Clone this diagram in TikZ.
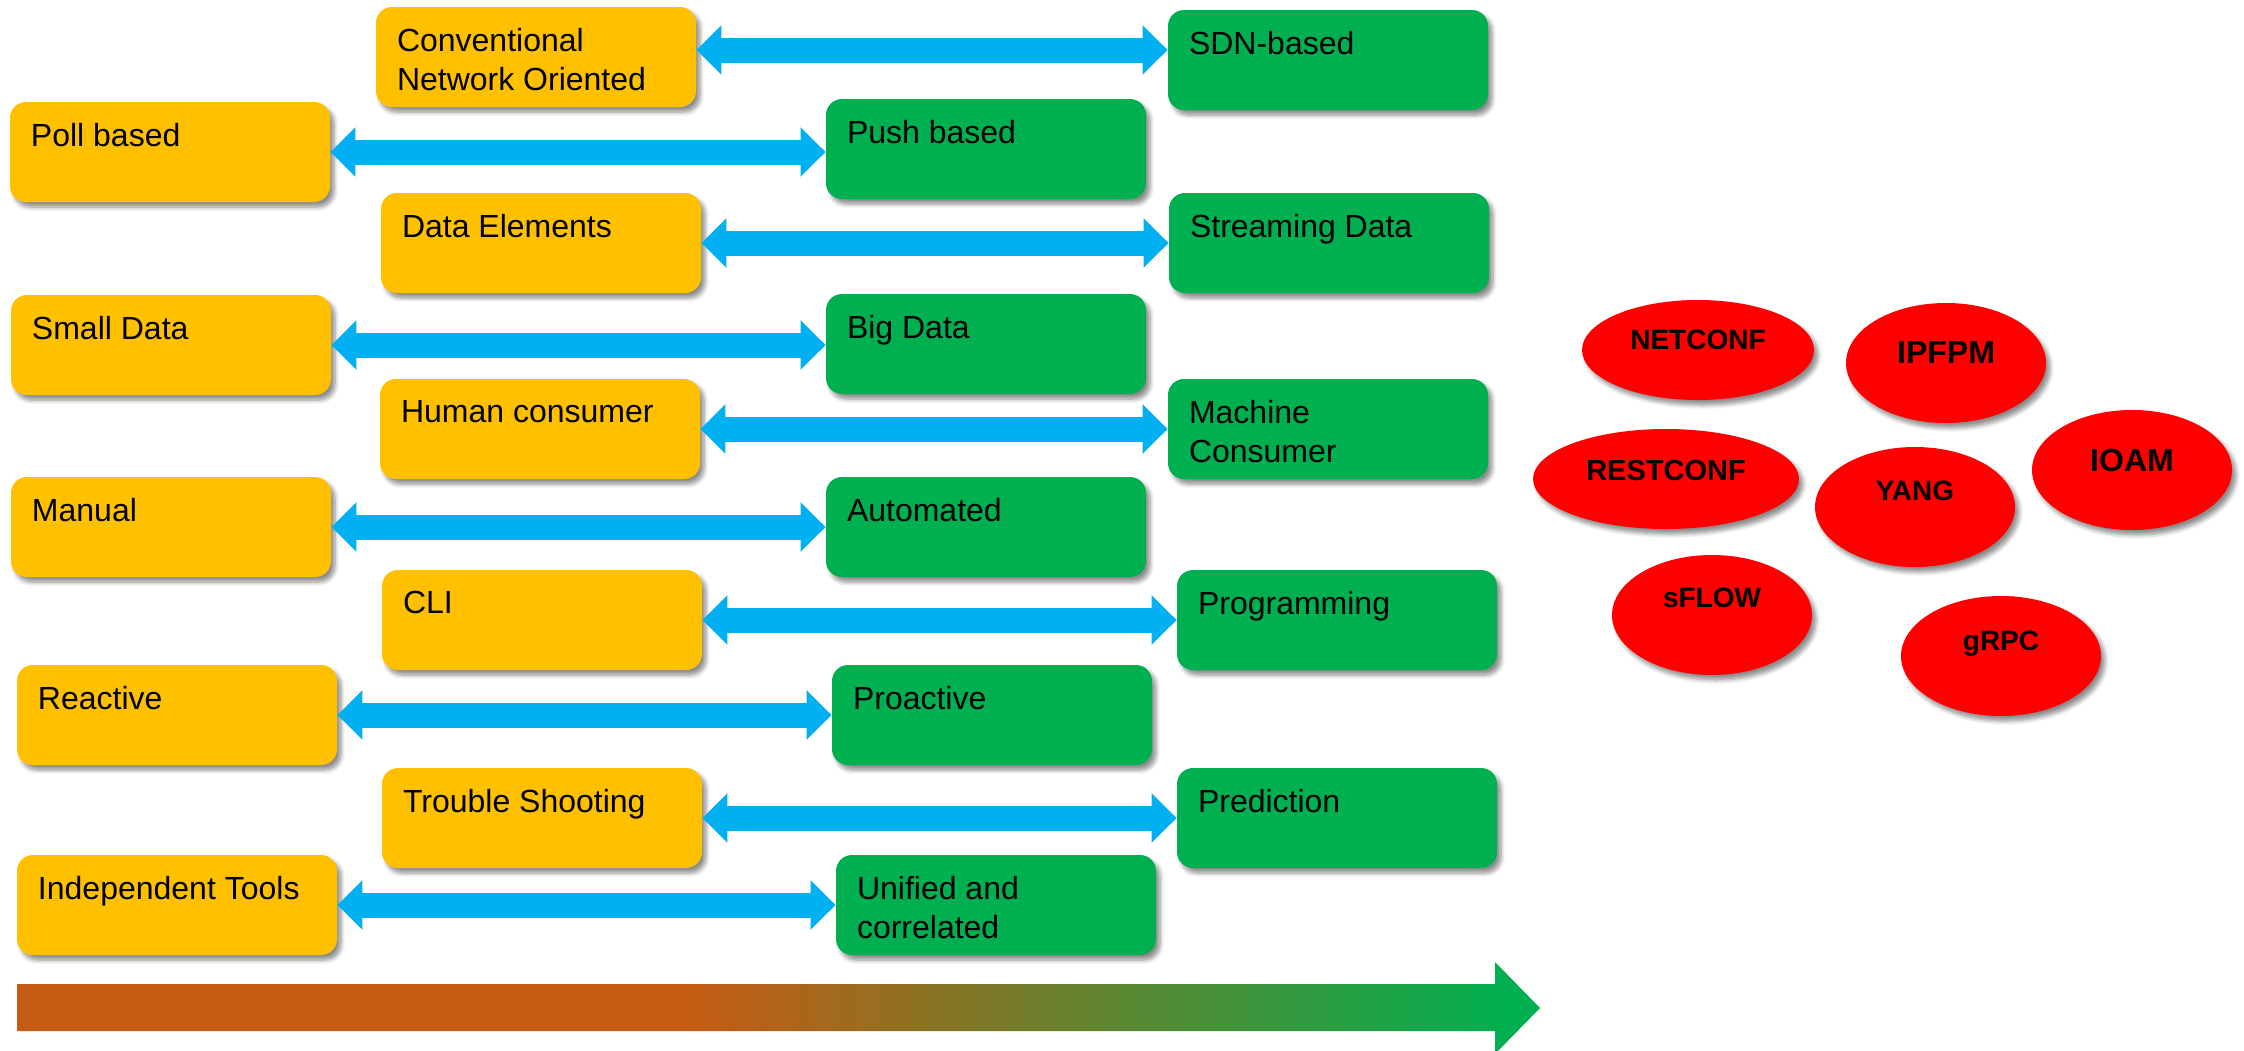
\documentclass[tikz,border=0pt]{standalone}
\usepackage{fontspec}
\setmainfont{Liberation Sans}
\usetikzlibrary{shapes.geometric, arrows.meta, shadows.blur}

\definecolor{boxorange}{RGB}{255,192,0}
\definecolor{boxgreen}{RGB}{0,176,80}
\definecolor{linkblue}{RGB}{0,176,240}
\definecolor{barorange}{RGB}{197,90,18}

\pgfdeclarehorizontalshading{timebar}{100bp}{color(0bp)=(barorange); color(47bp)=(barorange); color(74bp)=(boxgreen); color(100bp)=(boxgreen)}

\newcommand{\boxtext}[1]{\parbox[c][29pt][t]{139pt}{\raggedright #1}}

\begin{document}
\begin{tikzpicture}[x=0.5pt, y=-0.5pt,
	oldbox/.style={fill=boxorange, rounded corners=8pt, inner sep=10.5pt, font=\fontsize{16}{19.5}\selectfont,
		blur shadow={shadow xshift=2pt, shadow yshift=-2.5pt, shadow opacity=45, shadow blur steps=6}},
	newbox/.style={oldbox, fill=boxgreen},
	link/.style={draw=linkblue, line width=12.5pt, {Triangle[length=12.5pt,width=24pt]}-{Triangle[length=12.5pt,width=24pt]}},
	proto/.style={ellipse, fill=red, inner sep=0pt, minimum width=100pt, minimum height=60pt, text height=10pt,
		font=\bfseries\fontsize{14}{16}\selectfont,
		blur shadow={shadow xshift=2pt, shadow yshift=-2.5pt, shadow opacity=45, shadow blur steps=6}}]
	\useasboundingbox (0,0) rectangle (2244,1050);

	\node[oldbox] (a1) at (536,57) {\boxtext{Conventional\\Network Oriented}};
	\node[newbox] (b1) at (1328,60) {\boxtext{SDN-based}};
	\node[oldbox] (a2) at (170,152) {\boxtext{Poll based}};
	\node[newbox] (b2) at (986,149) {\boxtext{Push based}};
	\node[oldbox] (a3) at (541,243) {\boxtext{Data Elements}};
	\node[newbox] (b3) at (1329,243) {\boxtext{Streaming Data}};
	\node[oldbox] (a4) at (171,345) {\boxtext{Small Data}};
	\node[newbox] (b4) at (986,344) {\boxtext{Big Data}};
	\node[oldbox] (a5) at (540,429) {\boxtext{Human consumer}};
	\node[newbox] (b5) at (1328,429) {\boxtext{Machine\\Consumer}};
	\node[oldbox] (a6) at (171,527) {\boxtext{Manual}};
	\node[newbox] (b6) at (986,527) {\boxtext{Automated}};
	\node[oldbox] (a7) at (542,620) {\boxtext{CLI}};
	\node[newbox] (b7) at (1337,620) {\boxtext{Programming}};
	\node[oldbox] (a8) at (177,715) {\boxtext{Reactive}};
	\node[newbox] (b8) at (992,715) {\boxtext{Proactive}};
	\node[oldbox] (a9) at (542,818) {\boxtext{Trouble Shooting}};
	\node[newbox] (b9) at (1337,818) {\boxtext{Prediction}};
	\node[oldbox] (a10) at (177,905) {\boxtext{Independent Tools}};
	\node[newbox] (b10) at (996,905) {\boxtext{Unified and\\correlated}};

	\draw[link] ([yshift=3.5pt]a1.east) -- ([yshift=3.5pt]a1.east -| b1.west);
	\draw[link] (a2.east) -- (a2.east -| b2.west);
	\draw[link] (a3.east) -- (a3.east -| b3.west);
	\draw[link] (a4.east) -- (a4.east -| b4.west);
	\draw[link] (a5.east) -- (a5.east -| b5.west);
	\draw[link] (a6.east) -- (a6.east -| b6.west);
	\draw[link] (a7.east) -- (a7.east -| b7.west);
	\draw[link] (a8.east) -- (a8.east -| b8.west);
	\draw[link] (a9.east) -- (a9.east -| b9.west);
	\draw[link] (a10.east) -- (a10.east -| b10.west);

	% protocols
	\node[proto, minimum width=116pt, minimum height=50pt, text depth=11pt] (netconf) at (1698,350) {NETCONF};
	\node[proto, text depth=9.5pt, font=\bfseries\fontsize{16}{18}\selectfont] (ipfpm) at (1946,363) {IPFPM};
	\node[proto, minimum width=133pt, minimum height=50pt, text depth=9pt, font=\bfseries\fontsize{14.5}{16}\selectfont] (restconf) at (1666,479) {RESTCONF};
	\node[proto, text depth=17pt] (yang) at (1915,507) {YANG};
	\node[proto, text depth=8.5pt, font=\bfseries\fontsize{16}{18}\selectfont] (ioam) at (2132,470) {IOAM};
	\node[proto, text depth=18pt] (sflow) at (1712,615) {sFLOW};
	\node[proto, text depth=16pt] (grpc) at (2001,656) {gRPC};

	% time line
	\shade[shading=timebar] (17,984) -- (1495,984) -- (1495,962) -- (1540,1008) -- (1495,1054) -- (1495,1031) -- (17,1031) -- cycle;
\end{tikzpicture}
\end{document}
